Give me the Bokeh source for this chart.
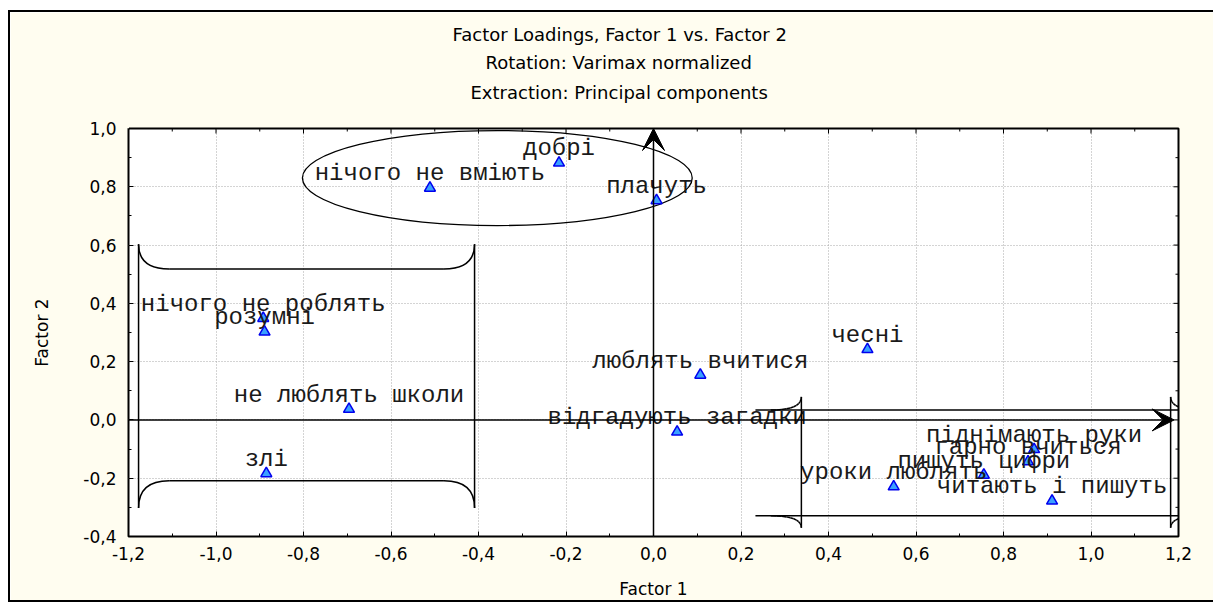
import math
from bokeh.plotting import figure
from bokeh.models import (FixedTicker, CustomJSTickFormatter, Title, LinearAxis,
                          Arrow, VeeHead, Range1d)
from bokeh.core.properties import value
from bokeh.embed import file_html
from bokeh.resources import INLINE

# ---------------- data ----------------
labels = ["добрі", "нічого не вміють", "плачуть", "нічого не роблять", "розумні",
          "не люблять школи", "злі", "чесні", "люблять вчитися", "відгадують загадки",
          "піднімають руки", "гарно вчиться", "пишуть цифри", "уроки люблять",
          "читають і пишуть"]
factor1 = [-0.216, -0.511, 0.007, -0.892, -0.889, -0.696, -0.885, 0.489, 0.107, 0.054,
           0.870, 0.856, 0.755, 0.549, 0.911]
factor2 = [0.882, 0.796, 0.753, 0.349, 0.302, 0.037, -0.184, 0.242, 0.154, -0.041,
           -0.101, -0.143, -0.189, -0.229, -0.278]

x_ticks = [-1.2, -1.0, -0.8, -0.6, -0.4, -0.2, 0.0, 0.2, 0.4, 0.6, 0.8, 1.0, 1.2]
y_ticks = [-0.4, -0.2, 0.0, 0.2, 0.4, 0.6, 0.8, 1.0]
title_lines = ["Factor Loadings, Factor 1 vs. Factor 2",
               "Rotation: Varimax normalized",
               "Extraction: Principal components"]
x_title = "Factor 1"
y_title = "Factor 2"

# hand-drawn annotation shapes (grouping marks)
ellipse_shape = dict(cx=-0.357, cy=0.83, w=0.891, h=0.326)
left_bracket = dict(x0=-1.177, x1=-0.409, tip_top=0.603, tip_bot=-0.302,
                    h_top=0.518, h_bot=-0.209, r=0.07)
right_bracket = dict(xa=0.338, xb=1.182, tip_top=0.079, tip_bot=-0.370,
                     h_top=0.034, h_bot=-0.329, xl=0.233, xr=1.29, r=0.07)

FONT = "DejaVu Sans"
CREAM = "#fffdf0"
TITLE_OFFSETS = [324, 357, 342]   # px from frame left for each title line
TITLE_STANDOFFS = [4, 6, 8]       # px
TITLE_GAP = 22                    # px between frame and the lowest title line

x_minor = [(a + b) / 2 for a, b in zip(x_ticks[:-1], x_ticks[1:])]
y_minor = [(a + b) / 2 for a, b in zip(y_ticks[:-1], y_ticks[1:])]

p = figure(width=1205, height=592,
           x_range=Range1d(x_ticks[0], x_ticks[-1]),
           y_range=Range1d(y_ticks[0], y_ticks[-1]),
           output_backend="svg", toolbar_location=None,
           min_border_left=118, min_border_right=37,
           min_border_top=116, min_border_bottom=68,
           background_fill_color="white", border_fill_color=CREAM,
           outline_line_color="black", outline_line_width=2)
p.styles = {"margin-left": "8px", "margin-top": "10px",
            "border-left": "2px solid black", "border-top": "2px solid black",
            "border-bottom": "2px solid black"}

fmt = CustomJSTickFormatter(code="return Math.abs(tick) < 1e-9 ? '0,0' : tick.toFixed(1).replace('.', ',');")

for ax in (p.xaxis[0], p.yaxis[0]):
    ax.axis_line_color = None
    ax.major_tick_in = 5
    ax.major_tick_out = 0
    ax.minor_tick_in = 3
    ax.minor_tick_out = 0
    ax.major_tick_line_color = "black"
    ax.minor_tick_line_color = "black"
    ax.major_label_text_font = FONT
    ax.major_label_text_font_size = "17px"
    ax.major_label_text_color = "black"
    ax.axis_label_text_font = FONT
    ax.axis_label_text_font_style = "normal"
    ax.axis_label_text_font_size = "17px"
    ax.axis_label_text_color = "black"
    ax.formatter = fmt

p.xaxis.ticker = FixedTicker(ticks=x_ticks, minor_ticks=x_minor)
p.yaxis.ticker = FixedTicker(ticks=y_ticks, minor_ticks=y_minor)
p.xaxis.axis_label = x_title
p.yaxis.axis_label = y_title
p.xaxis.major_label_standoff = 10
p.yaxis.major_label_standoff = 12
p.xaxis.axis_label_standoff = 16
p.yaxis.axis_label_standoff = 28

for g, tk in ((p.xgrid, x_ticks), (p.ygrid, y_ticks)):
    g.ticker = FixedTicker(ticks=tk)
    g.grid_line_color = "#a8a8a8"
    g.grid_line_dash = "1 2"
    g.grid_line_width = 1

# inward ticks on the top and right frame edges (half of each dash is clipped away)
p.scatter(x_ticks, [y_ticks[-1]] * len(x_ticks), marker="dash", angle=math.pi / 2,
          size=10, line_color="black", line_width=1)
p.scatter(x_minor, [y_ticks[-1]] * len(x_minor), marker="dash", angle=math.pi / 2,
          size=6, line_color="black", line_width=1)
p.scatter([x_ticks[-1]] * len(y_ticks), y_ticks, marker="dash",
          size=10, line_color="black", line_width=1)
p.scatter([x_ticks[-1]] * len(y_minor), y_minor, marker="dash",
          size=6, line_color="black", line_width=1)

# top axis used only as a spacer between frame and titles:
# one cream (invisible) outward tick at the frame corner, empty label
spacer = LinearAxis(ticker=FixedTicker(ticks=[x_ticks[0]], minor_ticks=[]),
                    formatter=CustomJSTickFormatter(code="return '';"),
                    axis_line_color=None, major_tick_line_color=CREAM,
                    minor_tick_line_color=None, major_tick_in=0,
                    major_tick_out=TITLE_GAP, minor_tick_out=0, major_label_standoff=0,
                    major_label_text_font_size="1px")
p.add_layout(spacer, "above")

# three title lines (first added sits closest to the frame)
for txt, off, so in reversed(list(zip(title_lines, TITLE_OFFSETS, TITLE_STANDOFFS))):
    p.add_layout(Title(text=txt, align="left", offset=off, standoff=so,
                       text_font=FONT, text_font_size="18px",
                       text_font_style="normal", text_color="black"), "above")

# origin axes with arrows
p.add_layout(Arrow(x_start=x_ticks[0], y_start=0, x_end=1.19, y_end=0,
                   line_color="black", line_width=1.5,
                   end=VeeHead(size=22, fill_color="black", line_color="black")))
p.add_layout(Arrow(x_start=0, y_start=y_ticks[0], x_end=0, y_end=y_ticks[-1],
                   line_color="black", line_width=1.5,
                   end=VeeHead(size=22, fill_color="black", line_color="black")))

# ellipse
e = ellipse_shape
p.ellipse(x=[e["cx"]], y=[e["cy"]], width=[e["w"]], height=[e["h"]],
          fill_color=None, line_color="black", line_width=1.3)

# left bracket (inside frame -> glyphs)
b = left_bracket
p.segment(x0=[b["x0"], b["x1"], b["x0"] + b["r"], b["x0"] + b["r"]],
          y0=[b["tip_bot"], b["tip_bot"], b["h_top"], b["h_bot"]],
          x1=[b["x0"], b["x1"], b["x1"] - b["r"], b["x1"] - b["r"]],
          y1=[b["tip_top"], b["tip_top"], b["h_top"], b["h_bot"]],
          line_color="black", line_width=1.5)
p.quadratic(x0=[b["x0"], b["x1"], b["x0"], b["x1"]],
            y0=[b["tip_top"], b["tip_top"], b["tip_bot"], b["tip_bot"]],
            x1=[b["x0"] + b["r"], b["x1"] - b["r"], b["x0"] + b["r"], b["x1"] - b["r"]],
            y1=[b["h_top"], b["h_top"], b["h_bot"], b["h_bot"]],
            cx=[b["x0"], b["x1"], b["x0"], b["x1"]],
            cy=[b["h_top"], b["h_top"], b["h_bot"], b["h_bot"]],
            line_color="black", line_width=1.5)

# right bracket (crosses the frame -> annotation segments)
def seg(xs, ys, xe, ye):
    p.add_layout(Arrow(x_start=xs, y_start=ys, x_end=xe, y_end=ye, end=None,
                       line_color="black", line_width=1.5))

def curve(x0, y0, cx, cy, x1, y1, n=10):
    pts = []
    for i in range(n + 1):
        t = i / n
        pts.append(((1 - t) ** 2 * x0 + 2 * (1 - t) * t * cx + t ** 2 * x1,
                    (1 - t) ** 2 * y0 + 2 * (1 - t) * t * cy + t ** 2 * y1))
    for (a, c), (bb, d) in zip(pts[:-1], pts[1:]):
        seg(a, c, bb, d)

r = right_bracket
seg(r["xl"], r["h_top"], r["xr"], r["h_top"])
seg(r["xl"], r["h_bot"], r["xr"], r["h_bot"])
seg(r["xa"], r["tip_bot"], r["xa"], r["tip_top"])
seg(r["xb"], r["tip_bot"], r["xb"], r["tip_top"])
curve(r["xa"], r["tip_top"], r["xa"], r["h_top"], r["xa"] - r["r"], r["h_top"])
curve(r["xa"], r["tip_bot"], r["xa"], r["h_bot"], r["xa"] - r["r"], r["h_bot"])
curve(r["xb"], r["tip_top"], r["xb"], r["h_top"], r["xb"] + r["r"], r["h_top"])
curve(r["xb"], r["tip_bot"], r["xb"], r["h_bot"], r["xb"] + r["r"], r["h_bot"])

# points and labels
p.scatter(factor1, factor2, marker="triangle", size=11,
          fill_color="#3aa0ff", line_color="#0000ee", line_width=1.5)
p.text(factor1, factor2, text=labels, text_font=value("Liberation Mono"),
       text_font_size=value("24px"), text_align="center", text_baseline="alphabetic",
       y_offset=-14, text_color="#1a1a1a")

open("out.html", "w").write(file_html(p, INLINE))
